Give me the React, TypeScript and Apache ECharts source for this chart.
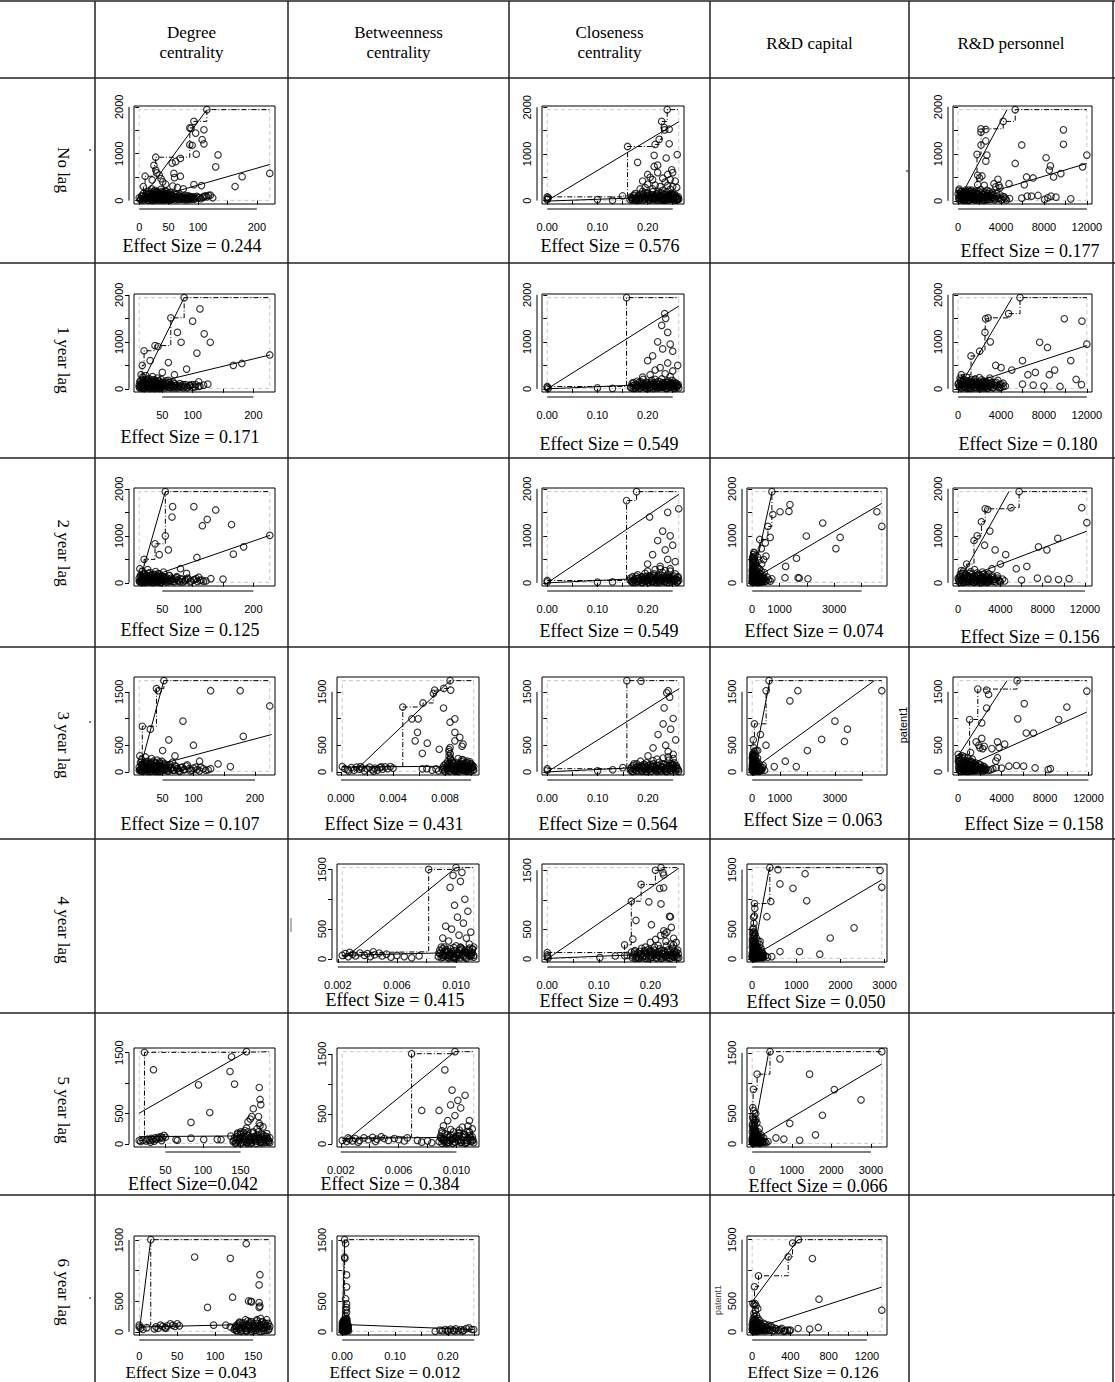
import React, { useEffect, useRef } from "react";
import * as echarts from "echarts";

// ---------- tick values ----------
const yTicksHigh = [0, 500, 1000, 1500, 2000];
const yLabelsHigh = [0, 1000, 2000];
const yTicksLow = [0, 500, 1000, 1500];
const yLabelsLow = [0, 500, 1500];
const xTicksDegA = [0, 50, 100, 150, 200];
const xLabelsDegA = [0, 50, 100, 200];
const xTicksDegB = [50, 100, 150, 200];
const xLabelsDegB = [50, 100, 200];
const xTicksDeg5 = [50, 100, 150];
const xTicksDeg6 = [0, 50, 100, 150];
const xTicksClo = [0, 0.05, 0.1, 0.15, 0.2, 0.25];
const xLabelsClo = [0, 0.1, 0.2];
const xTicksPer = [0, 2000, 4000, 6000, 8000, 10000, 12000];
const xLabelsPer = [0, 4000, 8000, 12000];
const xTicksCapA = [0, 1000, 2000, 3000, 4000];
const xLabelsCapA = [0, 1000, 3000];
const xTicksCapB = [0, 1000, 2000, 3000];
const xTicksCap6 = [0, 200, 400, 600, 800, 1000, 1200];
const xLabelsCap6 = [0, 400, 800, 1200];
const xTicksBtw3 = [0, 0.002, 0.004, 0.006, 0.008, 0.01];
const xLabelsBtw3 = [0, 0.004, 0.008];
const xTicksBtw4 = [0.002, 0.004, 0.006, 0.008, 0.01];
const xLabelsBtw4 = [0.002, 0.006, 0.01];

// ---------- row / column labels ----------
const columnTitles = [["Degree", "centrality"], ["Betweenness", "centrality"], ["Closeness", "centrality"], ["R&D capital"], ["R&D personnel"]];
const rowTitles = ["No lag", "1 year lag", "2 year lag", "3 year lag", "4 year lag", "5 year lag", "6 year lag"];

// ---------- data (patents vs predictor) ----------
const degreeLag0 = [[0,60],[2,20],[5,100],[7,300],[10,520],[12,150],[14,70],[15,10],[16,200],[18,90],[19,30],[20,130],[21,250],[22,440],[22,60],[23,5],[24,170],[25,750],[25,100],[26,40],[27,220],[28,925],[28,650],[28,130],[29,15],[30,80],[30,590],[31,190],[32,50],[33,110],[34,545],[34,20],[35,150],[36,70],[37,470],[37,240],[38,30],[39,120],[40,400],[40,60],[41,180],[42,10],[43,90],[44,140],[45,350],[45,40],[46,200],[47,70],[48,20],[49,110],[50,160],[51,50],[52,90],[53,10],[54,130],[55,60],[56,800],[56,30],[57,310],[58,100],[59,580],[60,490],[60,150],[62,830],[62,50],[64,80],[65,280],[66,20],[68,120],[70,900],[70,520],[70,60],[72,30],[74,90],[75,250],[76,50],[78,110],[80,20],[82,70],[84,40],[86,1550],[86,1190],[86,90],[88,1540],[88,60],[90,1180],[90,30],[93,1690],[93,340],[93,80],[96,1440],[96,50],[97,990],[100,70],[105,40],[106,320],[107,1300],[110,1510],[110,1210],[110,90],[113,100],[115,1940],[118,110],[121,115],[125,60],[130,720],[134,975],[163,300],[175,510],[222,580]];
const degreeLag0Dense = [[3,40],[4,90],[6,10],[7,150],[8,60],[9,20],[11,110],[12,40],[13,180],[14,130],[16,50],[17,10],[18,160],[19,80],[20,40],[21,110],[22,20],[23,140],[24,60],[25,200],[26,100],[27,20],[28,60],[29,180],[30,120],[31,30],[32,90],[33,160],[34,60],[35,10],[36,120],[37,40],[38,190],[39,80],[40,20],[41,140],[42,70],[43,30],[44,200],[45,100],[46,20],[47,150],[48,80],[49,40],[50,100],[52,20],[53,170],[55,110],[57,40],[59,80],[61,20],[63,130],[65,60],[67,100],[69,30],[71,80],[73,50],[77,20],[79,70],[81,40],[83,100],[85,20],[87,50],[89,80],[91,60],[94,30],[98,90],[102,60],[108,70],[115,80]];
const degreeLag0Cr = [[2,0],[115,1940]];
const degreeLag0Ols = [[0,-30],[222,770]];

const closenessLag0 = [[0,80],[0,40],[0,20],[0.002,60],[0.1,22],[0.13,7],[0.15,100],[0.16,1160],[0.215,1204],[0.223,1312],[0.228,1697],[0.239,1950],[0.233,1566],[0.234,1515],[0.243,1530],[0.243,1218],[0.18,820],[0.213,970],[0.237,913],[0.259,986],[0.213,732],[0.22,760],[0.248,660],[0.25,600],[0.24,560],[0.22,600],[0.2,560],[0.205,500],[0.19,420],[0.21,450],[0.23,480],[0.245,450],[0.255,420],[0.235,400],[0.2,350],[0.215,330],[0.225,300],[0.24,320],[0.25,300],[0.258,280],[0.195,280],[0.185,250],[0.21,250],[0.23,220],[0.245,240],[0.165,20],[0.168,60],[0.17,10],[0.172,100],[0.175,40],[0.178,5],[0.18,80],[0.182,30],[0.185,140],[0.187,60],[0.19,10],[0.192,110],[0.195,40],[0.197,170],[0.2,70],[0.202,20],[0.205,120],[0.207,50],[0.21,190],[0.212,90],[0.215,15],[0.217,140],[0.22,60],[0.222,200],[0.224,30],[0.226,100],[0.228,160],[0.23,50],[0.232,10],[0.234,130],[0.236,80],[0.238,180],[0.24,30],[0.242,110],[0.244,60],[0.246,150],[0.248,20],[0.25,90],[0.252,40],[0.254,130],[0.256,70],[0.258,10],[0.26,50],[0.262,30],[0.19,200],[0.2,160],[0.175,150],[0.215,60],[0.235,20],[0.245,100],[0.225,70]];
const closenessLag0Dense = [[0.167,80],[0.169,30],[0.171,50],[0.173,120],[0.176,20],[0.179,60],[0.181,100],[0.183,10],[0.186,40],[0.189,80],[0.191,140],[0.194,20],[0.196,60],[0.199,100],[0.201,40],[0.204,10],[0.206,80],[0.209,130],[0.211,20],[0.214,90],[0.216,40],[0.219,150],[0.221,10],[0.223,70],[0.225,120],[0.227,20],[0.229,90],[0.231,40],[0.233,140],[0.235,60],[0.237,10],[0.239,100],[0.241,50],[0.243,20],[0.245,130],[0.247,80],[0.249,40],[0.251,110],[0.253,10],[0.255,60],[0.257,100],[0.259,30],[0.261,80],[0.2,120],[0.21,50],[0.22,110],[0.23,10],[0.24,90],[0.25,140],[0.26,20]];
const closenessLag0Cr = [[0,0],[0.262,1690]];
const closenessLag0Ols = [[0,-10],[0.262,90]];

const personnelLag0 = [[0,150],[100,250],[1760,990],[2130,1534],[2130,1463],[2580,1520],[4200,1692],[5320,1943],[2580,1276],[2130,1190],[2680,975],[2580,846],[5930,1190],[5320,796],[8200,918],[8600,746],[8500,653],[9820,1513],[9820,1205],[12000,975],[11600,724],[8900,509],[9580,580],[6380,509],[6170,344],[6990,487],[4740,365],[3710,459],[3340,365],[3800,330],[1820,545],[2000,487],[2220,530],[1820,344],[2430,330],[2680,222],[5930,57],[6440,100],[6840,100],[7450,115],[8060,29],[8360,65],[8660,100],[9120,79],[10500,43],[3500,300],[3900,280],[2900,200],[3200,180],[200,50],[300,120],[400,20],[500,180],[600,80],[700,230],[800,40],[900,140],[1000,10],[1100,200],[1200,90],[1300,160],[1400,30],[1500,120],[1600,60],[1700,210],[1800,20],[1900,150],[2000,80],[2100,240],[2200,40],[2300,130],[2400,10],[2500,180],[2600,70],[2700,120],[2800,30],[3000,90],[3100,150],[3300,60],[3400,20],[3600,100],[3700,50],[3900,130],[4100,30],[4300,80],[4500,20],[4800,50],[150,100],[250,200],[350,60],[450,140],[550,10],[650,160],[750,100],[850,60],[950,190],[1050,120],[1150,40],[1250,230],[1350,80],[1450,170],[1550,20],[1650,100],[1750,140],[1850,60],[1950,200],[2050,120]];
const personnelLag0Dense = [[50,60],[120,20],[180,150],[260,90],[340,30],[420,110],[500,60],[580,190],[660,20],[740,120],[820,70],[900,10],[980,160],[1060,90],[1140,30],[1220,120],[1300,60],[1380,200],[1460,40],[1540,100],[1620,170],[1700,30],[1780,80],[1860,130],[1940,20],[2020,100],[2100,60],[2180,170],[2260,20],[2340,90],[2420,140],[2500,40],[2580,100],[2660,20],[2740,160],[2820,70],[2900,110],[3000,30],[3150,70],[3300,120],[3450,40],[3600,150],[3800,60],[4000,20],[4200,90],[4400,50],[80,220],[300,190],[700,170],[1000,230]];
const personnelLag0Cr = [[150,50],[4560,1943]];
const personnelLag0Ols = [[0,-20],[12000,796]];

const degreeLag1 = [[12,40],[13,150],[15,300],[17,500],[20,810],[38,920],[43,900],[64,1510],[86,1940],[112,1700],[100,1440],[75,1200],[81,990],[129,990],[119,1170],[107,760],[167,500],[181,540],[227,720],[60,560],[30,600],[90,420],[50,350],[70,300],[110,150],[125,100],[95,80],[14,60],[15,120],[16,20],[17,200],[18,80],[18,250],[19,40],[20,150],[21,10],[22,100],[23,280],[24,60],[25,180],[26,30],[27,130],[28,220],[29,70],[30,10],[31,160],[32,90],[33,40],[34,260],[35,120],[36,20],[37,190],[38,70],[39,140],[40,30],[41,100],[42,230],[43,50],[44,170],[45,10],[46,110],[47,60],[48,200],[49,30],[50,140],[52,80],[54,20],[56,120],[58,60],[60,180],[62,30],[64,90],[66,50],[68,140],[70,20],[73,80],[76,40],[79,110],[82,60],[85,20],[88,90],[92,40],[96,70],[100,30],[105,90],[110,50],[118,80]];
const degreeLag1Dense = [[12,80],[13,20],[14,170],[15,50],[16,110],[17,30],[18,140],[19,90],[20,10],[21,180],[22,60],[23,120],[24,30],[25,80],[26,200],[27,50],[28,110],[29,20],[30,150],[31,70],[32,30],[33,190],[34,100],[35,50],[36,140],[37,10],[38,90],[39,170],[40,60],[41,20],[42,120],[43,80],[44,40],[45,160],[46,100],[47,20],[48,60],[49,120],[50,40],[52,100],[54,60],[56,170],[58,30],[60,90],[62,130],[64,20],[66,80],[68,40],[70,110],[72,60],[75,20],[78,70],[81,30],[84,90],[87,50],[91,20],[95,60],[99,90],[104,40],[112,60]];
const degreeLag1Cr = [[12,0],[86,1940]];
const degreeLag1Ols = [[12,50],[227,720]];

const closenessLag1 = [[0,50],[0,30],[0.002,10],[0.1,20],[0.13,10],[0.158,1940],[0.234,1600],[0.236,1500],[0.228,1350],[0.24,1200],[0.22,1000],[0.245,950],[0.23,850],[0.25,800],[0.21,700],[0.2,600],[0.24,550],[0.26,500],[0.225,450],[0.215,400],[0.25,380],[0.235,320],[0.205,300],[0.19,250],[0.245,260],[0.166,40],[0.169,120],[0.171,10],[0.174,80],[0.177,30],[0.179,160],[0.181,60],[0.184,10],[0.186,110],[0.188,40],[0.191,200],[0.193,80],[0.196,20],[0.198,140],[0.201,60],[0.203,10],[0.206,100],[0.208,180],[0.211,40],[0.213,130],[0.216,70],[0.218,20],[0.221,160],[0.223,90],[0.226,30],[0.228,210],[0.231,60],[0.233,120],[0.236,10],[0.238,80],[0.241,170],[0.243,40],[0.246,110],[0.248,60],[0.251,20],[0.253,140],[0.256,70],[0.258,30],[0.261,90],[0.187,150],[0.205,30],[0.224,50],[0.239,130],[0.249,180],[0.215,200],[0.197,90],[0.255,110],[0.235,50]];
const closenessLag1Dense = [[0.167,20],[0.17,70],[0.172,130],[0.175,10],[0.178,90],[0.18,40],[0.183,140],[0.185,20],[0.188,70],[0.19,110],[0.192,30],[0.195,60],[0.197,10],[0.2,120],[0.202,80],[0.204,30],[0.207,140],[0.209,60],[0.212,10],[0.214,90],[0.217,40],[0.219,120],[0.222,20],[0.224,150],[0.227,70],[0.229,30],[0.232,100],[0.234,50],[0.237,140],[0.239,10],[0.242,80],[0.244,120],[0.247,30],[0.249,90],[0.252,50],[0.254,10],[0.257,120],[0.259,60],[0.262,20],[0.21,100],[0.22,60],[0.23,130],[0.24,20],[0.25,110],[0.26,70]];
const closenessLag1Cr = [[0,0],[0.262,1760]];
const closenessLag1Ols = [[0,0],[0.262,120]];

const personnelLag1 = [[0,100],[300,300],[1200,700],[2560,1490],[2800,1510],[4700,1600],[5770,1940],[9900,1490],[11540,1440],[7600,990],[8330,880],[3000,1000],[2500,1200],[2000,800],[3500,500],[4000,450],[5000,400],[6000,600],[6500,300],[7200,350],[8500,300],[9000,400],[10500,600],[12000,950],[11000,200],[6000,100],[7000,80],[8000,60],[9500,50],[11500,90],[100,60],[250,150],[400,30],[550,200],[700,90],[850,10],[1000,170],[1150,60],[1300,120],[1450,20],[1600,210],[1750,80],[1900,140],[2050,40],[2200,190],[2350,100],[2500,20],[2650,150],[2800,60],[2950,230],[3100,90],[3250,30],[3400,130],[3550,60],[3700,180],[3850,20],[4000,100],[4200,50],[180,230],[320,90],[480,170],[620,40],[780,250],[930,120],[1080,20],[1230,200],[1380,90],[1530,150],[1680,30],[1830,110],[1980,240],[2130,70],[2280,160],[2430,50],[2580,120],[2730,10],[2880,180],[3030,40]];
const personnelLag1Dense = [[60,120],[140,40],[220,180],[300,10],[380,90],[460,150],[540,50],[620,110],[700,20],[780,170],[860,70],[940,30],[1020,130],[1100,90],[1180,10],[1260,150],[1340,50],[1420,110],[1500,190],[1580,30],[1660,90],[1740,140],[1820,20],[1900,70],[1980,110],[2060,10],[2140,130],[2220,60],[2300,20],[2380,90],[2460,160],[2540,40],[2620,100],[2700,60],[2780,20],[2860,120],[2950,70],[3100,130],[3250,20],[3400,80],[3550,140],[3700,40],[3850,90],[4000,30],[4200,120],[4400,60]];
const personnelLag1Cr = [[0,0],[5040,1940]];
const personnelLag1Ols = [[0,20],[12000,920]];

const degreeLag2 = [[12,40],[13,300],[20,500],[38,830],[55,1940],[67,1620],[66,1400],[102,1620],[124,1350],[138,1550],[116,1215],[164,1240],[167,610],[184,765],[227,1010],[107,540],[55,1000],[60,700],[45,600],[80,300],[90,200],[110,120],[130,90],[150,80],[14,30],[15,150],[16,70],[17,250],[17,10],[19,110],[20,200],[21,50],[23,160],[24,20],[25,90],[26,280],[28,130],[29,40],[30,220],[31,80],[33,10],[34,170],[35,60],[36,120],[38,30],[39,240],[40,90],[41,150],[43,20],[44,110],[45,190],[46,60],[48,10],[49,140],[50,80],[52,230],[53,40],[55,120],[57,70],[59,20],[61,160],[63,50],[65,100],[68,30],[71,80],[74,130],[77,40],[80,90],[84,20],[88,60],[92,100],[97,40],[103,70],[108,30],[115,60],[122,40]];
const degreeLag2Dense = [[12,100],[13,20],[14,160],[15,60],[16,10],[17,130],[18,80],[19,30],[20,170],[21,100],[22,10],[23,60],[24,140],[25,40],[26,90],[27,200],[28,20],[29,110],[30,60],[31,160],[32,30],[33,90],[34,120],[35,10],[36,70],[37,180],[38,50],[39,100],[40,20],[41,130],[42,60],[43,190],[44,30],[45,80],[46,140],[47,10],[48,90],[50,40],[52,130],[54,70],[56,20],[58,100],[60,50],[62,150],[64,30],[67,80],[70,20],[73,110],[76,60],[79,20],[83,70],[87,40],[91,80],[96,20],[101,60],[106,90],[112,50],[118,30]];
const degreeLag2Cr = [[12,0],[55,1940]];
const degreeLag2Ols = [[12,50],[227,1010]];

const closenessLag2 = [[0,50],[0,20],[0.1,15],[0.13,20],[0.158,1750],[0.178,1940],[0.204,1400],[0.24,1500],[0.262,1575],[0.23,1100],[0.245,1000],[0.22,900],[0.25,800],[0.235,700],[0.21,600],[0.24,500],[0.255,450],[0.2,400],[0.225,350],[0.245,300],[0.165,60],[0.168,20],[0.17,130],[0.173,50],[0.176,10],[0.178,90],[0.18,170],[0.183,30],[0.185,70],[0.188,130],[0.19,10],[0.193,100],[0.195,200],[0.198,50],[0.2,20],[0.203,150],[0.205,80],[0.208,30],[0.21,120],[0.213,190],[0.215,60],[0.218,10],[0.22,100],[0.223,160],[0.225,40],[0.228,80],[0.23,220],[0.233,20],[0.235,120],[0.238,60],[0.24,170],[0.243,10],[0.245,90],[0.248,140],[0.25,40],[0.253,70],[0.255,190],[0.258,20],[0.26,110],[0.262,50],[0.2,250],[0.215,280],[0.225,300],[0.245,250],[0.235,260],[0.19,60],[0.205,140],[0.222,70]];
const closenessLag2Dense = [[0.166,100],[0.169,40],[0.171,10],[0.174,80],[0.177,140],[0.179,30],[0.182,100],[0.184,60],[0.187,10],[0.189,120],[0.192,70],[0.194,30],[0.197,140],[0.199,90],[0.202,10],[0.204,60],[0.207,110],[0.209,40],[0.212,160],[0.214,20],[0.217,90],[0.219,130],[0.222,40],[0.224,10],[0.227,110],[0.229,60],[0.232,150],[0.234,30],[0.237,90],[0.239,10],[0.242,120],[0.244,60],[0.247,20],[0.249,100],[0.252,150],[0.254,40],[0.257,80],[0.259,10],[0.261,130],[0.2,60],[0.21,20],[0.22,140],[0.23,50],[0.24,100],[0.25,70],[0.26,40]];
const closenessLag2Cr = [[0,0],[0.262,1880]];
const closenessLag2Ols = [[0,0],[0.262,130]];

const capitalLag2 = [[0,20],[5,150],[10,300],[30,500],[60,650],[276,923],[480,850],[576,1200],[720,1940],[1380,1665],[1020,1512],[1344,1520],[756,1454],[660,967],[336,727],[504,567],[420,494],[1980,996],[2580,1272],[3216,967],[3060,727],[4560,1512],[4740,1200],[1620,523],[1224,349],[1200,109],[1680,109],[1720,100],[2040,87],[720,87],[660,36],[20,60],[40,200],[60,20],[80,350],[100,120],[120,450],[140,40],[160,250],[180,80],[200,550],[220,160],[240,10],[260,300],[280,100],[300,200],[320,50],[350,400],[380,130],[410,60],[440,220],[470,30],[30,420],[50,600],[70,100],[90,280],[110,50],[130,180],[150,380],[170,10],[190,140],[210,320],[230,70],[250,480],[270,200],[290,30],[310,120],[330,250],[360,90],[390,20],[420,150],[450,80],[500,40],[550,120],[600,60],[25,520],[45,300],[85,640],[105,200]];
const capitalLag2Dense = [[0,100],[0,250],[5,40],[8,180],[12,380],[15,90],[18,220],[22,20],[26,320],[30,150],[34,60],[38,260],[42,100],[46,430],[52,30],[56,180],[62,330],[68,70],[74,230],[80,120],[88,20],[95,170],[102,80],[110,380],[118,30],[126,150],[135,260],[145,60],[155,110],[165,200],[175,30],[185,80],[195,170],[205,40],[215,110],[230,60],[245,20],[260,140],[275,50],[290,90],[310,20],[330,60],[360,30],[400,100],[10,470],[20,550],[35,480],[65,560]];
const capitalLag2Cr = [[0,0],[730,1940]];
const capitalLag2Ols = [[0,70],[4740,1690]];

const personnelLag2 = [[0,100],[800,400],[1500,900],[2560,1575],[2800,1560],[5000,1600],[5770,1940],[11700,1600],[12180,1280],[9430,945],[7600,765],[8400,700],[3000,1100],[2200,1300],[1800,1000],[2500,800],[3500,700],[4500,600],[4000,400],[5500,300],[6500,350],[3200,300],[7500,100],[8500,80],[9500,70],[10500,90],[6000,60],[80,40],[200,180],[350,70],[500,250],[650,20],[800,130],[950,60],[1100,200],[1250,30],[1400,110],[1550,280],[1700,50],[1850,160],[2000,20],[2150,90],[2300,230],[2450,60],[2600,140],[2750,10],[2900,190],[3050,70],[3200,120],[3350,30],[3500,80],[3700,150],[3900,40],[150,120],[300,260],[450,10],[600,160],[750,90],[900,30],[1050,140],[1200,240],[1350,70],[1500,20],[1650,120],[1800,210],[1950,60],[2100,150],[2250,10],[2400,100],[2550,50],[2700,170],[2850,40]];
const personnelLag2Dense = [[60,70],[140,10],[220,140],[300,60],[380,200],[460,20],[540,110],[620,60],[700,180],[780,30],[860,90],[940,150],[1020,20],[1100,70],[1180,120],[1260,40],[1340,190],[1420,80],[1500,10],[1580,140],[1660,60],[1740,20],[1820,100],[1900,170],[1980,40],[2060,90],[2140,10],[2220,130],[2300,70],[2380,30],[2460,180],[2540,90],[2620,20],[2700,60],[2780,120],[2860,20],[2950,90],[3100,40],[3250,150],[3400,70],[3550,20],[3700,100],[3850,60],[4000,20],[4200,80],[4400,40]];
const personnelLag2Cr = [[0,0],[4800,1940]];
const personnelLag2Ols = [[0,50],[12180,1100]];

const degreeLag3 = [[12,30],[13,300],[17,855],[30,800],[40,1560],[43,1520],[52,1709],[128,1520],[176,1520],[224,1235],[181,665],[83,950],[100,500],[60,600],[50,400],[70,300],[110,200],[140,150],[160,100],[14,50],[15,140],[15,20],[16,230],[17,90],[18,10],[20,170],[21,60],[22,280],[24,110],[25,30],[26,200],[28,80],[29,150],[30,10],[32,250],[33,100],[34,40],[36,180],[37,70],[38,120],[40,20],[41,220],[42,90],[44,50],[45,160],[46,10],[48,110],[49,200],[50,60],[52,30],[54,140],[56,80],[58,20],[60,120],[63,50],[66,180],[69,30],[72,100],[75,60],[78,10],[82,90],[86,40],[90,130],[95,20],[100,70],[106,40],[112,90],[120,30],[128,60]];
const degreeLag3Dense = [[12,90],[13,30],[14,180],[15,60],[16,120],[17,20],[18,150],[19,70],[20,30],[21,110],[22,190],[23,40],[24,80],[25,150],[26,10],[27,60],[28,120],[29,40],[30,170],[31,90],[32,20],[33,140],[34,60],[35,200],[36,30],[37,100],[38,10],[39,160],[40,70],[41,40],[42,130],[43,10],[44,90],[45,190],[46,50],[47,120],[48,20],[50,80],[52,160],[54,40],[56,110],[58,60],[60,20],[62,140],[64,80],[67,30],[70,120],[73,60],[76,20],[80,80],[84,40],[88,110],[93,60],[98,30],[104,90],[110,20],[116,60],[124,40]];
const degreeLag3Cr = [[12,0],[52,1709]];
const degreeLag3Ols = [[12,40],[227,700]];

const betweennessLag3 = [[0.0001,100],[0.0003,60],[0.0005,40],[0.0008,80],[0.001,30],[0.0012,90],[0.0014,50],[0.0016,70],[0.0018,20],[0.002,60],[0.0022,90],[0.0024,40],[0.0026,70],[0.0028,30],[0.003,80],[0.0032,50],[0.0034,95],[0.0036,60],[0.0038,100],[0.004,70],[0.0006,20],[0.0015,100],[0.0025,15],[0.0031,95],[0.00475,1215],[0.0063,1291],[0.0071,1469],[0.0072,1532],[0.0079,1563],[0.00838,1709],[0.00843,1532],[0.00788,1196],[0.00545,994],[0.00593,994],[0.00588,741],[0.0057,582],[0.00663,538],[0.00625,348],[0.00755,424],[0.00838,930],[0.00875,994],[0.00875,741],[0.00913,646],[0.00875,582],[0.00938,519],[0.0093,480],[0.00838,456],[0.0083,420],[0.0083,380],[0.0084,340],[0.0083,300],[0.0084,260],[0.00625,57],[0.0066,60],[0.007,30],[0.0073,55],[0.0075,20],[0.0078,40],[0.0079,120],[0.008,10],[0.0081,80],[0.0082,200],[0.0083,30],[0.0084,150],[0.0085,60],[0.0086,100],[0.0087,20],[0.0088,180],[0.0089,50],[0.009,130],[0.0091,10],[0.0092,90],[0.0093,230],[0.0094,40],[0.0095,160],[0.0096,70],[0.0097,110],[0.0098,20],[0.0099,190],[0.01,60],[0.0101,120],[0.0102,30],[0.0082,70],[0.0084,240],[0.0086,170],[0.0088,10],[0.009,250],[0.0092,150],[0.0094,100],[0.0096,20],[0.0098,80],[0.01,150],[0.0085,130],[0.0089,90],[0.0093,40],[0.0097,200],[0.0091,70]];
const betweennessLag3Dense = [[0.00785,80],[0.00795,20],[0.00805,150],[0.00815,40],[0.00825,100],[0.00835,10],[0.00845,60],[0.00855,180],[0.00865,30],[0.00875,110],[0.00885,70],[0.00895,10],[0.00905,160],[0.00915,40],[0.00925,90],[0.00935,140],[0.00945,20],[0.00955,80],[0.00965,170],[0.00975,50],[0.00985,120],[0.00995,10],[0.01005,90],[0.01015,40],[0.0083,160],[0.0087,60],[0.0091,120],[0.0095,40],[0.0099,150],[0.0101,80],[0.0085,210],[0.0089,30],[0.0093,190],[0.0097,10],[0.0082,130],[0.0086,40],[0.009,90],[0.0094,220],[0.0098,60],[0.0102,100]];
const betweennessLag3Cr = [[0.001,0],[0.00838,1709]];
const betweennessLag3Ols = [[0.0001,90],[0.0102,110]];

const closenessLag3 = [[0,60],[0,30],[0.1,20],[0.13,40],[0.15,80],[0.158,1709],[0.186,1700],[0.24,1520],[0.237,1480],[0.243,1400],[0.232,1200],[0.25,1000],[0.23,900],[0.245,800],[0.22,700],[0.255,600],[0.235,500],[0.21,450],[0.24,380],[0.25,330],[0.2,300],[0.165,30],[0.167,90],[0.17,10],[0.172,150],[0.175,50],[0.177,20],[0.18,110],[0.182,70],[0.185,200],[0.187,30],[0.19,130],[0.192,60],[0.195,10],[0.197,170],[0.2,90],[0.202,40],[0.205,140],[0.207,10],[0.21,210],[0.212,80],[0.215,30],[0.217,120],[0.22,60],[0.222,180],[0.225,20],[0.227,100],[0.23,150],[0.232,50],[0.235,10],[0.237,130],[0.24,80],[0.242,220],[0.245,30],[0.247,110],[0.25,60],[0.252,170],[0.255,20],[0.257,90],[0.26,40],[0.25,250],[0.24,280],[0.23,260],[0.218,240],[0.205,60],[0.195,100],[0.245,150]];
const closenessLag3Dense = [[0.166,60],[0.168,10],[0.171,120],[0.173,40],[0.176,80],[0.178,150],[0.181,20],[0.183,60],[0.186,110],[0.188,10],[0.191,80],[0.193,140],[0.196,40],[0.198,10],[0.201,120],[0.203,60],[0.206,20],[0.208,100],[0.211,150],[0.213,40],[0.216,80],[0.218,10],[0.221,120],[0.223,50],[0.226,20],[0.228,90],[0.231,140],[0.233,30],[0.236,70],[0.238,10],[0.241,120],[0.243,60],[0.246,20],[0.248,150],[0.251,90],[0.253,40],[0.256,120],[0.258,60],[0.261,10],[0.2,50],[0.21,110],[0.22,30],[0.23,90],[0.24,40],[0.25,130]];
const closenessLag3Cr = [[0,0],[0.262,1560]];
const closenessLag3Ols = [[0,0],[0.262,120]];

const capitalLag3 = [[0,50],[20,300],[40,600],[80,900],[504,1520],[612,1709],[1655,1520],[1367,1330],[3453,800],[2518,608],[3345,570],[4700,1520],[3000,950],[2000,400],[1200,200],[1600,100],[800,100],[500,500],[300,700],[200,400],[10,50],[20,200],[30,20],[40,350],[50,120],[60,450],[70,60],[80,250],[90,10],[100,150],[110,300],[120,80],[140,400],[160,30],[180,200],[200,100],[220,50],[250,150],[280,20],[310,90],[350,40],[400,120],[450,30],[15,280],[35,100],[55,180],[75,380],[95,60],[115,220],[135,20],[155,130],[175,70],[195,260],[230,10],[270,60],[330,30],[380,80]];
const capitalLag3Dense = [[0,120],[3,40],[6,260],[9,80],[12,20],[16,180],[20,330],[24,60],[28,140],[32,10],[36,230],[40,90],[45,30],[50,300],[55,160],[60,50],[66,110],[72,10],[78,190],[84,80],[90,300],[97,30],[104,120],[112,60],[120,200],[128,20],[136,90],[145,40],[155,160],[165,60],[175,20],[185,110],[200,40],[215,80],[230,20],[250,60],[270,30],[300,50]];
const capitalLag3Cr = [[0,0],[640,1709]];
const capitalLag3Ols = [[0,40],[4430,1709]];

const personnelLag3 = [[0,330],[30,250],[1055,981],[1146,361],[1809,1551],[2623,1532],[2804,1450],[2623,1196],[2171,918],[1658,563],[2171,627],[1900,500],[2000,450],[2261,437],[2400,480],[3105,437],[3618,563],[4281,519],[3769,456],[3618,266],[3467,203],[5487,994],[6090,1279],[6271,728],[6935,728],[9256,981],[10010,1215],[11850,1513],[5427,1709],[4673,108],[5367,120],[6030,108],[7086,76],[8292,44],[8500,60],[3200,60],[3000,40],[2800,30],[3500,80],[4000,70],[50,100],[100,30],[150,200],[200,70],[250,150],[300,10],[350,120],[400,60],[450,250],[500,90],[550,20],[600,170],[650,50],[700,110],[750,10],[800,210],[850,80],[900,140],[950,30],[1000,100],[1050,190],[1100,60],[1150,20],[1200,130],[1250,80],[1300,240],[1350,40],[1400,100],[1450,160],[1500,20],[1550,70],[1600,120],[1700,30],[1800,90],[1900,150],[2000,40],[2100,80],[2200,20],[2300,110],[2400,50],[2500,30],[120,270],[380,300],[600,280],[900,260],[1200,200],[60,180]];
const personnelLag3Dense = [[20,200],[80,60],[130,140],[180,20],[230,100],[280,230],[330,50],[380,170],[430,20],[480,110],[530,60],[580,200],[630,30],[680,130],[730,80],[780,20],[830,160],[880,50],[930,110],[980,10],[1030,140],[1080,70],[1130,30],[1180,180],[1230,60],[1280,110],[1330,20],[1380,150],[1430,60],[1480,100],[1530,30],[1580,170],[1650,60],[1750,110],[1850,20],[1950,80],[2050,130],[2150,40],[2250,70],[2350,20],[2450,90],[2550,50]];
const personnelLag3Cr = [[0,300],[4500,1709]];
const personnelLag3Ols = [[0,40],[11850,1120]];

const betweennessLag4 = [[0.0023,60],[0.0025,90],[0.0027,40],[0.003,80],[0.0032,50],[0.0035,100],[0.0038,60],[0.004,90],[0.0042,40],[0.0045,70],[0.0048,100],[0.005,50],[0.0053,80],[0.0056,30],[0.006,60],[0.0065,40],[0.007,20],[0.0075,50],[0.0028,110],[0.0044,120],[0.00815,1500],[0.01,1530],[0.0104,1450],[0.0098,1400],[0.0103,1300],[0.0096,1200],[0.0106,1000],[0.0099,900],[0.0108,800],[0.0101,700],[0.0105,600],[0.0097,500],[0.011,450],[0.0102,400],[0.0107,350],[0.0095,300],[0.0109,250],[0.0112,200],[0.0093,550],[0.0091,350],[0.0088,40],[0.0089,150],[0.009,20],[0.0091,90],[0.0092,200],[0.0093,50],[0.0094,120],[0.0095,10],[0.0096,170],[0.0097,70],[0.0098,30],[0.0099,140],[0.01,220],[0.0101,60],[0.0102,100],[0.0103,20],[0.0104,160],[0.0105,50],[0.0106,120],[0.0107,10],[0.0108,80],[0.0109,180],[0.011,40],[0.0111,110],[0.0112,30],[0.00885,100],[0.00905,60],[0.00925,130],[0.00945,30],[0.00965,90],[0.00985,190],[0.01005,20],[0.01025,140],[0.01045,80],[0.01065,30],[0.01085,150],[0.01105,70]];
const betweennessLag4Dense = [[0.00892,90],[0.00912,30],[0.00932,160],[0.00952,60],[0.00972,120],[0.00992,10],[0.01012,80],[0.01032,190],[0.01052,40],[0.01072,110],[0.01092,60],[0.01112,170],[0.009,200],[0.0094,130],[0.0098,20],[0.0102,70],[0.0106,150],[0.011,100],[0.0092,60],[0.0096,40],[0.01,80],[0.0104,170],[0.0108,100],[0.0112,60],[0.0091,170],[0.0095,80],[0.0099,40],[0.0103,200],[0.0107,110],[0.0111,160]];
const betweennessLag4Cr = [[0.0024,0],[0.01,1530]];
const betweennessLag4Ols = [[0.0023,60],[0.0112,115]];

const closenessLag4 = [[0,108],[0,68],[0,40],[0.002,20],[0.102,23],[0.132,51],[0.15,57],[0.155,60],[0.15,239],[0.163,114],[0.166,335],[0.163,977],[0.182,1261],[0.2097,1500],[0.2206,1545],[0.2245,1460],[0.2258,1420],[0.218,1193],[0.2258,1204],[0.197,966],[0.2206,931],[0.172,653],[0.202,579],[0.237,721],[0.239,715],[0.232,454],[0.2406,534],[0.226,477],[0.228,420],[0.22,400],[0.21,330],[0.2,280],[0.23,300],[0.245,350],[0.24,250],[0.25,280],[0.19,200],[0.165,20],[0.168,80],[0.17,140],[0.173,30],[0.176,100],[0.178,10],[0.181,60],[0.183,180],[0.186,40],[0.188,120],[0.191,10],[0.193,90],[0.196,160],[0.198,50],[0.201,20],[0.203,130],[0.206,70],[0.208,200],[0.211,30],[0.213,110],[0.216,60],[0.218,170],[0.221,10],[0.223,90],[0.226,140],[0.228,40],[0.231,220],[0.233,70],[0.236,20],[0.238,120],[0.241,60],[0.243,180],[0.246,30],[0.248,100],[0.251,50],[0.253,150],[0.255,20],[0.2,100],[0.215,230],[0.245,240]];
const closenessLag4Dense = [[0.166,50],[0.169,120],[0.171,10],[0.174,70],[0.177,30],[0.179,130],[0.182,90],[0.184,20],[0.187,60],[0.189,140],[0.192,40],[0.194,90],[0.197,10],[0.199,120],[0.202,70],[0.204,30],[0.207,150],[0.209,90],[0.212,10],[0.214,60],[0.217,120],[0.219,40],[0.222,140],[0.224,20],[0.227,80],[0.229,110],[0.232,20],[0.234,150],[0.237,60],[0.239,10],[0.242,100],[0.244,40],[0.247,130],[0.249,70],[0.252,20],[0.254,90],[0.21,80],[0.23,50],[0.25,120],[0.2,140]];
const closenessLag4Cr = [[0,0],[0.255,1535]];
const closenessLag4Ols = [[0,10],[0.255,100]];

const capitalLag4 = [[0,40],[5,300],[15,500],[30,700],[52,931],[52,721],[400,1534],[585,1500],[1199,1432],[925,1187],[629,1261],[1236,977],[422,966],[333,710],[178,295],[2938,1204],[2900,1488],[2309,523],[1769,352],[629,125],[1073,125],[1532,80],[444,40],[350,30],[300,50],[60,850],[40,600],[20,450],[5,100],[10,250],[15,30],[20,180],[25,380],[30,60],[35,140],[40,450],[45,20],[50,220],[55,90],[60,330],[65,10],[70,160],[75,60],[80,270],[90,120],[100,40],[110,200],[120,80],[130,300],[140,20],[150,150],[160,70],[170,240],[180,110],[190,30],[200,180],[210,60],[220,130],[230,40],[240,90],[250,20],[12,420],[28,520],[38,300],[48,380],[58,250],[68,420],[85,190],[95,350]];
const capitalLag4Dense = [[0,60],[2,200],[4,20],[7,340],[9,110],[13,40],[17,240],[21,10],[24,150],[27,70],[31,300],[35,30],[39,190],[43,90],[47,20],[52,260],[57,130],[62,50],[67,200],[72,20],[78,110],[84,60],[90,230],[97,20],[104,90],[112,150],[120,30],[130,80],[140,180],[150,20],[162,100],[175,40],[190,70],[205,20],[220,100],[240,30],[260,60]];
const capitalLag4Cr = [[10,0],[390,1534]];
const capitalLag4Ols = [[0,40],[2938,1330]];

const degreeLag5 = [[15,56],[22,1506],[158,1517],[138,1433],[34,1220],[136,1191],[142,984],[94,972],[175,928],[176,731],[177,646],[167,579],[165,450],[163,410],[160,365],[174,450],[175,337],[109,517],[84,354],[84,96],[101,73],[119,75],[124,70],[137,129],[150,197],[17,40],[20,60],[24,50],[26,80],[29,60],[31,90],[33,70],[36,100],[38,80],[40,110],[42,90],[44,120],[46,100],[48,140],[50,110],[64,73],[66,60],[30,30],[35,45],[45,55],[140,40],[142,100],[144,20],[146,160],[148,60],[150,10],[152,120],[154,80],[156,220],[158,30],[160,140],[162,60],[164,10],[166,180],[168,90],[170,40],[172,250],[174,110],[176,20],[178,160],[180,70],[182,130],[184,30],[186,90],[188,50],[189,20],[145,70],[155,40],[165,100],[175,60],[185,120],[150,170],[160,200],[170,130],[180,280],[158,260],[176,300]];
const degreeLag5Dense = [[141,60],[143,10],[145,120],[147,30],[149,90],[151,150],[153,20],[155,80],[157,130],[159,10],[161,70],[163,110],[165,30],[167,200],[169,60],[171,10],[173,140],[175,90],[177,40],[179,110],[181,20],[183,70],[185,170],[187,30],[189,100],[146,180],[154,190],[162,40],[170,80],[178,20],[186,60],[150,100],[160,30],[180,150],[168,120],[174,200]];
const degreeLag5Cr = [[15,506],[158,1517]];
const degreeLag5Ols = [[15,120],[189,135]];

const betweennessLag5 = [[0.0021,60],[0.0024,40],[0.0026,80],[0.0028,50],[0.003,90],[0.0033,60],[0.0036,100],[0.0039,70],[0.0042,110],[0.0045,80],[0.0048,120],[0.005,90],[0.0053,60],[0.0057,90],[0.006,70],[0.0064,50],[0.0066,100],[0.0025,100],[0.0032,30],[0.0044,40],[0.0069,1504],[0.0099,1538],[0.0092,1234],[0.0097,896],[0.0101,727],[0.0088,558],[0.0099,473],[0.0094,389],[0.0076,558],[0.0106,811],[0.0109,389],[0.0103,600],[0.0096,650],[0.0108,300],[0.0104,280],[0.0111,250],[0.0091,300],[0.0073,60],[0.0076,30],[0.008,50],[0.0083,20],[0.0088,40],[0.0089,130],[0.009,10],[0.0091,80],[0.0092,170],[0.0093,50],[0.0094,110],[0.0095,20],[0.0096,150],[0.0097,70],[0.0098,200],[0.0099,30],[0.01,100],[0.0101,60],[0.0102,180],[0.0103,20],[0.0104,120],[0.0105,60],[0.0106,150],[0.0107,30],[0.0108,90],[0.0109,200],[0.011,40],[0.0111,120],[0.0112,20],[0.00895,90],[0.00915,30],[0.00935,150],[0.00955,60],[0.00975,10],[0.00995,120],[0.01015,80],[0.01035,30],[0.01055,160],[0.01075,60],[0.01095,110],[0.01115,70],[0.009,220],[0.0096,240],[0.0102,230],[0.0108,210]];
const betweennessLag5Dense = [[0.00892,100],[0.00912,60],[0.00932,10],[0.00952,120],[0.00972,80],[0.00992,30],[0.01012,180],[0.01032,60],[0.01052,110],[0.01072,20],[0.01092,140],[0.01112,50],[0.009,180],[0.0094,20],[0.0098,90],[0.0102,140],[0.0106,10],[0.011,80]];
const betweennessLag5Cr = [[0.0021,0],[0.0099,1538]];
const betweennessLag5Ols = [[0.0021,90],[0.0112,115]];

const capitalLag5 = [[0,50],[5,300],[15,600],[30,900],[125,1150],[450,1521],[700,1403],[1450,1150],[2075,896],[2750,727],[3275,1521],[1775,473],[950,338],[600,100],[800,80],[1200,60],[400,40],[1600,150],[10,100],[20,250],[30,40],[40,400],[50,150],[60,20],[70,300],[80,90],[90,500],[100,200],[110,30],[120,350],[140,100],[160,50],[180,250],[200,10],[220,150],[240,60],[260,30],[290,100],[320,40],[350,20],[15,450],[25,180],[35,550],[45,80],[55,350],[65,220],[75,30],[85,150],[95,400],[130,80],[150,200],[170,20],[190,120],[210,60]];
const capitalLag5Dense = [[0,80],[3,200],[6,20],[9,330],[12,120],[16,40],[20,420],[24,70],[28,250],[32,10],[37,160],[42,290],[47,50],[52,200],[58,20],[64,120],[70,380],[76,60],[83,230],[90,20],[98,110],[106,40],[115,170],[125,60],[135,20],[145,120],[155,40],[170,90],[185,20],[200,70],[220,30],[240,110],[265,40],[290,20]];
const capitalLag5Cr = [[0,50],[420,1521]];
const capitalLag5Ols = [[0,50],[3275,1318]];

const degreeLag6 = [[0,111],[0,80],[15.2,1506],[141,1440],[73,1223],[120,1201],[159,934],[158,768],[123,567],[144,506],[147,500],[148,490],[158,478],[159,422],[158,400],[90,400],[98,111],[114,111],[120,83],[2,60],[5,40],[10,70],[22,83],[25,60],[28,111],[31,90],[34,70],[37,100],[41,133],[44,110],[47,90],[50,133],[53,100],[20,50],[35,60],[125,40],[127,100],[129,20],[131,70],[133,150],[135,30],[137,110],[139,60],[141,10],[143,180],[145,80],[147,40],[149,130],[151,20],[153,90],[155,200],[157,50],[159,120],[161,10],[163,160],[165,70],[167,30],[169,100],[171,50],[130,130],[140,200],[150,60],[160,220],[170,140],[128,80],[138,150],[148,170],[158,90],[168,200],[155,180],[145,130]];
const degreeLag6Dense = [[126,60],[128,20],[130,100],[132,40],[134,10],[136,140],[138,80],[140,30],[142,110],[144,50],[146,160],[148,10],[150,90],[152,130],[154,30],[156,70],[158,10],[160,110],[162,60],[164,20],[166,140],[168,80],[170,30],[172,90],[135,70],[145,100],[155,140],[165,110],[132,160],[142,20],[152,60],[162,170]];
const degreeLag6Cr = [[0,0],[15.2,1506]];
const degreeLag6Ols = [[0,80],[171,130]];

const betweennessLag6 = [[0,60],[0.001,120],[0.0045,1507],[0.0064,1445],[0.0045,1222],[0.005,1200],[0.0083,932],[0.0083,737],[0.0064,541],[0.0083,458],[0.0083,400],[0.007,360],[0.0083,320],[0.0064,260],[0.0083,220],[0,20],[0.001,80],[0.002,10],[0.002,150],[0.003,40],[0.003,100],[0.004,20],[0.004,180],[0.005,60],[0.005,130],[0.006,10],[0.006,90],[0.007,40],[0.007,160],[0.008,20],[0.008,110],[0.009,60],[0.009,190],[0.01,30],[0.01,120],[0.011,70],[0.012,20],[0.003,200],[0.006,210],[0.176,11],[0.185,30],[0.19,20],[0.195,40],[0.2,25],[0.205,45],[0.21,30],[0.215,50],[0.22,20],[0.225,40],[0.23,30],[0.235,55],[0.24,67],[0.245,40],[0.249,39],[0.2,10],[0.212,15],[0.228,12]];
const betweennessLag6Dense = [[0,100],[0,150],[0.0005,40],[0.0015,170],[0.0025,60],[0.0035,130],[0.0045,30],[0.0055,180],[0.0065,60],[0.0075,110],[0.0085,20],[0.0095,140],[0.0105,60],[0.0115,100],[0.001,20],[0.003,150],[0.005,90],[0.007,200],[0.009,120],[0.011,40],[0.002,80],[0.004,110],[0.006,50],[0.008,170],[0.01,80]];
const betweennessLag6Cr = [[0,0],[0.0045,1507]];
const betweennessLag6Ols = [[0,123],[0.249,39]];

const capitalLag6 = [[0,50],[7,465],[24,734],[66,913],[377,1221],[422,1445],[484,1500],[41,426],[59,381],[20,440],[30,460],[630,1193],[699,532],[1356,353],[692,73],[602,45],[481,56],[400,30],[350,20],[5,100],[10,30],[15,180],[20,70],[25,140],[30,10],[35,200],[40,90],[45,40],[50,160],[55,20],[60,120],[70,60],[80,180],[90,30],[100,100],[110,50],[120,140],[130,20],[140,80],[150,40],[170,110],[190,30],[210,70],[230,20],[250,50],[280,30],[310,60],[340,20],[12,220],[18,300],[26,250],[34,350],[8,60],[60,220],[45,270]];
const capitalLag6Dense = [[0,120],[3,30],[6,170],[9,70],[13,10],[17,130],[21,40],[25,190],[29,80],[33,20],[38,150],[43,60],[48,110],[53,10],[58,160],[64,40],[70,100],[76,20],[83,140],[90,60],[98,110],[106,20],[115,80],[125,40],[135,120],[145,20],[160,70],[175,30],[195,100],[215,20],[240,60],[270,20],[300,40],[330,10],[370,30],[390,20]];
const capitalLag6Cr = [[0,490],[480,1500]];
const capitalLag6Ols = [[0,45],[1356,730]];

// ---------- layout ----------
const colBox = [[134, 275], [337, 479], [542, 684], [747, 887], [953, 1092]];
const rowBox = [[106, 204], [294, 392], [488, 586], [677, 775], [864, 962], [1048, 1147], [1236, 1335]];
const rowLabelMargin = [12, 12, 12, 12, 12, 12, 10];
const rowEffectSize = [18, 18, 18, 18, 18, 18, 17];
const hLines = [1, 78, 263, 458, 647, 839, 1013, 1195];
const vLines = [95, 288, 509, 710, 909, 1113];
const colCenters = [191.5, 398.5, 609.5, 809.5, 1011];
const rowLabelY = [170, 360, 553, 745, 930, 1110, 1292];
const strayDots = [[90, 150], [90, 722], [90, 1298], [907, 171]];

type Panel = {
  row: number; col: number; pts: number[][]; cr: number[][]; ols: number[][];
  xTicks: number[]; xLabels: number[]; xd: number; yTicks: number[]; yLabels: number[];
  es: string; ex: number; ey: number;
};

const panels: Panel[] = [
  { row: 0, col: 0, pts: degreeLag0.concat(degreeLag0Dense), cr: degreeLag0Cr, ols: degreeLag0Ols, xTicks: xTicksDegA, xLabels: xLabelsDegA, xd: 0, yTicks: yTicksHigh, yLabels: yLabelsHigh, es: "Effect Size = 0.244", ex: 192, ey: 246 },
  { row: 0, col: 2, pts: closenessLag0.concat(closenessLag0Dense), cr: closenessLag0Cr, ols: closenessLag0Ols, xTicks: xTicksClo, xLabels: xLabelsClo, xd: 2, yTicks: yTicksHigh, yLabels: yLabelsHigh, es: "Effect Size = 0.576", ex: 610, ey: 246 },
  { row: 0, col: 4, pts: personnelLag0.concat(personnelLag0Dense), cr: personnelLag0Cr, ols: personnelLag0Ols, xTicks: xTicksPer, xLabels: xLabelsPer, xd: 0, yTicks: yTicksHigh, yLabels: yLabelsHigh, es: "Effect Size = 0.177", ex: 1030, ey: 251 },
  { row: 1, col: 0, pts: degreeLag1.concat(degreeLag1Dense), cr: degreeLag1Cr, ols: degreeLag1Ols, xTicks: xTicksDegB, xLabels: xLabelsDegB, xd: 0, yTicks: yTicksHigh, yLabels: yLabelsHigh, es: "Effect Size = 0.171", ex: 190, ey: 437 },
  { row: 1, col: 2, pts: closenessLag1.concat(closenessLag1Dense), cr: closenessLag1Cr, ols: closenessLag1Ols, xTicks: xTicksClo, xLabels: xLabelsClo, xd: 2, yTicks: yTicksHigh, yLabels: yLabelsHigh, es: "Effect Size = 0.549", ex: 609, ey: 444 },
  { row: 1, col: 4, pts: personnelLag1.concat(personnelLag1Dense), cr: personnelLag1Cr, ols: personnelLag1Ols, xTicks: xTicksPer, xLabels: xLabelsPer, xd: 0, yTicks: yTicksHigh, yLabels: yLabelsHigh, es: "Effect Size = 0.180", ex: 1028, ey: 444 },
  { row: 2, col: 0, pts: degreeLag2.concat(degreeLag2Dense), cr: degreeLag2Cr, ols: degreeLag2Ols, xTicks: xTicksDegB, xLabels: xLabelsDegB, xd: 0, yTicks: yTicksHigh, yLabels: yLabelsHigh, es: "Effect Size = 0.125", ex: 190, ey: 630 },
  { row: 2, col: 2, pts: closenessLag2.concat(closenessLag2Dense), cr: closenessLag2Cr, ols: closenessLag2Ols, xTicks: xTicksClo, xLabels: xLabelsClo, xd: 2, yTicks: yTicksHigh, yLabels: yLabelsHigh, es: "Effect Size = 0.549", ex: 609, ey: 631 },
  { row: 2, col: 3, pts: capitalLag2.concat(capitalLag2Dense), cr: capitalLag2Cr, ols: capitalLag2Ols, xTicks: xTicksCapA, xLabels: xLabelsCapA, xd: 0, yTicks: yTicksHigh, yLabels: yLabelsHigh, es: "Effect Size = 0.074", ex: 814, ey: 631 },
  { row: 2, col: 4, pts: personnelLag2.concat(personnelLag2Dense), cr: personnelLag2Cr, ols: personnelLag2Ols, xTicks: xTicksPer, xLabels: xLabelsPer, xd: 0, yTicks: yTicksHigh, yLabels: yLabelsHigh, es: "Effect Size = 0.156", ex: 1030, ey: 637 },
  { row: 3, col: 0, pts: degreeLag3.concat(degreeLag3Dense), cr: degreeLag3Cr, ols: degreeLag3Ols, xTicks: xTicksDegB, xLabels: xLabelsDegB, xd: 0, yTicks: yTicksLow, yLabels: yLabelsLow, es: "Effect Size = 0.107", ex: 190, ey: 824 },
  { row: 3, col: 1, pts: betweennessLag3.concat(betweennessLag3Dense), cr: betweennessLag3Cr, ols: betweennessLag3Ols, xTicks: xTicksBtw3, xLabels: xLabelsBtw3, xd: 3, yTicks: yTicksLow, yLabels: yLabelsLow, es: "Effect Size = 0.431", ex: 394, ey: 824 },
  { row: 3, col: 2, pts: closenessLag3.concat(closenessLag3Dense), cr: closenessLag3Cr, ols: closenessLag3Ols, xTicks: xTicksClo, xLabels: xLabelsClo, xd: 2, yTicks: yTicksLow, yLabels: yLabelsLow, es: "Effect Size = 0.564", ex: 608, ey: 824 },
  { row: 3, col: 3, pts: capitalLag3.concat(capitalLag3Dense), cr: capitalLag3Cr, ols: capitalLag3Ols, xTicks: xTicksCapA, xLabels: xLabelsCapA, xd: 0, yTicks: yTicksLow, yLabels: yLabelsLow, es: "Effect Size = 0.063", ex: 813, ey: 820 },
  { row: 3, col: 4, pts: personnelLag3.concat(personnelLag3Dense), cr: personnelLag3Cr, ols: personnelLag3Ols, xTicks: xTicksPer, xLabels: xLabelsPer, xd: 0, yTicks: yTicksLow, yLabels: yLabelsLow, es: "Effect Size = 0.158", ex: 1034, ey: 824 },
  { row: 4, col: 1, pts: betweennessLag4.concat(betweennessLag4Dense), cr: betweennessLag4Cr, ols: betweennessLag4Ols, xTicks: xTicksBtw4, xLabels: xLabelsBtw4, xd: 3, yTicks: yTicksLow, yLabels: yLabelsLow, es: "Effect Size = 0.415", ex: 395, ey: 1000 },
  { row: 4, col: 2, pts: closenessLag4.concat(closenessLag4Dense), cr: closenessLag4Cr, ols: closenessLag4Ols, xTicks: xTicksClo, xLabels: xLabelsClo, xd: 2, yTicks: yTicksLow, yLabels: yLabelsLow, es: "Effect Size = 0.493", ex: 609, ey: 1001 },
  { row: 4, col: 3, pts: capitalLag4.concat(capitalLag4Dense), cr: capitalLag4Cr, ols: capitalLag4Ols, xTicks: xTicksCapB, xLabels: xTicksCapB, xd: 0, yTicks: yTicksLow, yLabels: yLabelsLow, es: "Effect Size = 0.050", ex: 816, ey: 1002 },
  { row: 5, col: 0, pts: degreeLag5.concat(degreeLag5Dense), cr: degreeLag5Cr, ols: degreeLag5Ols, xTicks: xTicksDeg5, xLabels: xTicksDeg5, xd: 0, yTicks: yTicksLow, yLabels: yLabelsLow, es: "Effect Size=0.042", ex: 193, ey: 1184 },
  { row: 5, col: 1, pts: betweennessLag5.concat(betweennessLag5Dense), cr: betweennessLag5Cr, ols: betweennessLag5Ols, xTicks: xTicksBtw4, xLabels: xLabelsBtw4, xd: 3, yTicks: yTicksLow, yLabels: yLabelsLow, es: "Effect Size = 0.384", ex: 390, ey: 1184 },
  { row: 5, col: 3, pts: capitalLag5.concat(capitalLag5Dense), cr: capitalLag5Cr, ols: capitalLag5Ols, xTicks: xTicksCapB, xLabels: xTicksCapB, xd: 0, yTicks: yTicksLow, yLabels: yLabelsLow, es: "Effect Size = 0.066", ex: 818, ey: 1186 },
  { row: 6, col: 0, pts: degreeLag6.concat(degreeLag6Dense), cr: degreeLag6Cr, ols: degreeLag6Ols, xTicks: xTicksDeg6, xLabels: xTicksDeg6, xd: 0, yTicks: yTicksLow, yLabels: yLabelsLow, es: "Effect Size = 0.043", ex: 191, ey: 1372 },
  { row: 6, col: 1, pts: betweennessLag6.concat(betweennessLag6Dense), cr: betweennessLag6Cr, ols: betweennessLag6Ols, xTicks: xTicksClo, xLabels: xLabelsClo, xd: 2, yTicks: yTicksLow, yLabels: yLabelsLow, es: "Effect Size = 0.012", ex: 395, ey: 1372 },
  { row: 6, col: 3, pts: capitalLag6.concat(capitalLag6Dense), cr: capitalLag6Cr, ols: capitalLag6Ols, xTicks: xTicksCap6, xLabels: xLabelsCap6, xd: 0, yTicks: yTicksLow, yLabels: yLabelsLow, es: "Effect Size = 0.126", ex: 813, ey: 1372 },
];

const SERIF = "Liberation Serif";
const SANS = "Liberation Sans";

function extent(v: number[]) {
  let mn = Infinity, mx = -Infinity;
  for (const a of v) { if (a < mn) mn = a; if (a > mx) mx = a; }
  return [mn, mx];
}

function ceiling(pts: number[][]) {
  const s = pts.slice().sort((a, b) => a[0] - b[0] || b[1] - a[1]);
  const out: number[][] = [];
  let m = -Infinity;
  for (const p of s) { if (p[1] > m) { out.push([p[0], p[1]]); m = p[1]; } }
  return out;
}

function fmt(v: number, d: number) {
  return d === 0 ? String(Math.round(v)) : v.toFixed(d);
}

export default function App() {
  const ref = useRef<HTMLDivElement>(null);
  useEffect(() => {
    if (!ref.current) return;
    const chart = echarts.init(ref.current, undefined, { renderer: "svg" });
    const grids: any[] = [], xAxes: any[] = [], yAxes: any[] = [], series: any[] = [];
    const ranges: any[] = [];
    panels.forEach((p, i) => {
      const [l, r] = colBox[p.col];
      const [t, b] = rowBox[p.row];
      const [x0, x1] = extent(p.pts.map((d) => d[0]));
      const [y0, y1] = extent(p.pts.map((d) => d[1]));
      const xr = x1 - x0, yr = y1 - y0;
      const xmin = x0 - 0.04 * xr, xmax = x1 + 0.04 * xr;
      const ymin = y0 - 0.04 * yr, ymax = y1 + 0.04 * yr;
      ranges.push({ xmin, xmax, ymin, ymax, l, r, t, b });
      grids.push({ left: l, top: t, width: r - l, height: b - t, show: true, borderColor: "#000", borderWidth: 1, backgroundColor: "transparent" });
      xAxes.push({
        gridIndex: i, type: "value", min: xmin, max: xmax, offset: 5,
        axisLine: { show: false },
        axisTick: { show: true, length: 4, customValues: p.xTicks, lineStyle: { color: "#000", width: 1 } },
        axisLabel: { customValues: p.xLabels, formatter: (v: number) => fmt(v, p.xd), fontSize: 11, fontFamily: SANS, color: "#000", margin: rowLabelMargin[p.row], hideOverlap: false },
        splitLine: { show: false },
      });
      yAxes.push({
        gridIndex: i, type: "value", min: ymin, max: ymax, offset: 5,
        axisLine: { show: false },
        axisTick: { show: true, length: 4, customValues: p.yTicks, lineStyle: { color: "#000", width: 1 } },
        axisLabel: { customValues: p.yLabels, formatter: (v: number) => fmt(v, 0), rotate: 90, fontSize: 11, fontFamily: SANS, color: "#000", margin: 5, hideOverlap: false },
        splitLine: { show: false },
      });
      series.push({
        type: "line", xAxisIndex: i, yAxisIndex: i, silent: true, symbol: "none", z: 1,
        data: [[x0, y0], [x1, y0], [x1, y1], [x0, y1], [x0, y0]],
        lineStyle: { color: "#c8c8c8", width: 1, type: [4, 3] },
      });
      series.push({
        type: "scatter", xAxisIndex: i, yAxisIndex: i, silent: true, symbol: "circle", symbolSize: 6.5, z: 2,
        data: p.pts,
        itemStyle: { color: "rgba(0,0,0,0)", borderColor: "#000", borderWidth: 1.15 },
      });
      const ce = ceiling(p.pts);
      ce.push([x1, ce[ce.length - 1][1]]);
      series.push({
        type: "line", xAxisIndex: i, yAxisIndex: i, silent: true, symbol: "none", step: "end", z: 3,
        data: ce, lineStyle: { color: "#000", width: 1, type: [5, 2, 1, 2] },
      });
      series.push({
        type: "line", xAxisIndex: i, yAxisIndex: i, silent: true, symbol: "none", z: 3,
        data: p.cr, lineStyle: { color: "#000", width: 1 },
      });
      series.push({
        type: "line", xAxisIndex: i, yAxisIndex: i, silent: true, symbol: "none", z: 3,
        data: p.ols, lineStyle: { color: "#000", width: 1 },
      });
    });

    chart.setOption({ animation: false, grid: grids, xAxis: xAxes, yAxis: yAxes, series });

    const g: any[] = [];
    hLines.forEach((y) => g.push({ type: "line", shape: { x1: 0, y1: y, x2: 1115, y2: y }, style: { stroke: "#222", lineWidth: 1.5 } }));
    vLines.forEach((x) => g.push({ type: "line", shape: { x1: x, y1: 1, x2: x, y2: 1382 }, style: { stroke: "#222", lineWidth: 1.5 } }));
    columnTitles.forEach((lines, c) => {
      const y0 = lines.length === 2 ? 32 : 43;
      lines.forEach((s, k) => g.push({ type: "text", x: colCenters[c], y: y0 + k * 20, style: { text: s, fontSize: 17, fontFamily: SERIF, fill: "#000", textAlign: "center", textVerticalAlign: "middle" } }));
    });
    rowTitles.forEach((s, r) => g.push({ type: "text", x: 63, y: rowLabelY[r], rotation: -Math.PI / 2, style: { text: s, fontSize: 17, fontFamily: SERIF, fill: "#000", textAlign: "center", textVerticalAlign: "middle" } }));
    panels.forEach((p, i) => {
      g.push({ type: "text", x: p.ex, y: p.ey, style: { text: p.es, fontSize: rowEffectSize[p.row], fontFamily: SERIF, fill: "#000", textAlign: "center", textVerticalAlign: "middle" } });
      const R = ranges[i];
      const xt = p.xTicks.filter((v) => v >= R.xmin && v <= R.xmax);
      const yt = p.yTicks.filter((v) => v >= R.ymin && v <= R.ymax);
      const xa = chart.convertToPixel({ xAxisIndex: i } as any, xt[0]) as any;
      const xb = chart.convertToPixel({ xAxisIndex: i } as any, xt[xt.length - 1]) as any;
      const ya = chart.convertToPixel({ yAxisIndex: i } as any, yt[0]) as any;
      const yb = chart.convertToPixel({ yAxisIndex: i } as any, yt[yt.length - 1]) as any;
      g.push({ type: "line", shape: { x1: xa, y1: R.b + 5, x2: xb, y2: R.b + 5 }, style: { stroke: "#000", lineWidth: 1 } });
      g.push({ type: "line", shape: { x1: R.l - 5, y1: ya, x2: R.l - 5, y2: yb }, style: { stroke: "#000", lineWidth: 1 } });
    });
    g.push({ type: "text", x: 903, y: 725, rotation: Math.PI / 2, style: { text: "patent1", fontSize: 11, fontFamily: SANS, fill: "#000", textAlign: "center", textVerticalAlign: "middle" } });
    g.push({ type: "text", x: 718, y: 1300, rotation: Math.PI / 2, style: { text: "patent1", fontSize: 9, fontFamily: SANS, fill: "#444", textAlign: "center", textVerticalAlign: "middle" } });
    g.push({ type: "line", shape: { x1: 291, y1: 918, x2: 291, y2: 932 }, style: { stroke: "#666", lineWidth: 1 } });
    strayDots.forEach(([x, y]) => g.push({ type: "circle", shape: { cx: x, cy: y, r: 0.8 }, style: { fill: "#333" } }));
    chart.setOption({ graphic: g });
    return () => chart.dispose();
  }, []);
  return <div ref={ref} style={{ position: "absolute", left: 0, top: 0, width: 1115, height: 1382, background: "#fff" }} />;
}
